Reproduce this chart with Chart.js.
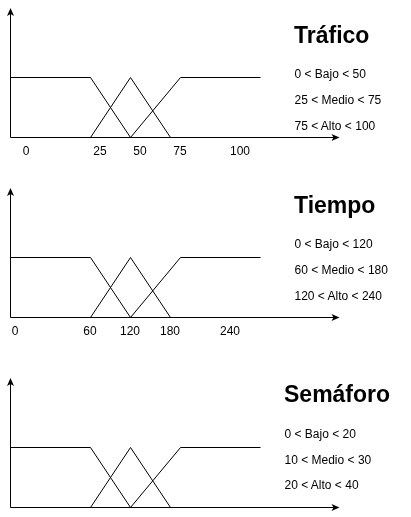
<!DOCTYPE html>
<html>
<head>
<meta charset="utf-8">
<script src="https://cdn.jsdelivr.net/npm/chart.js@4"></script>
<style>
  body { margin: 0; background: #fff; width: 411px; height: 517px; position: relative; overflow: hidden; }
  canvas { position: absolute; left: 0; }
  .titulo, .rango { position: absolute; font-family: "Liberation Sans", Arial, sans-serif; color: #000; white-space: nowrap; }
  .titulo { font-size: 23px; line-height: 23px; font-weight: bold; }
  .rango { font-size: 12px; line-height: 12px; }
</style>
</head>
<body>
<canvas id="chartTrafico" width="350" height="170" style="top:0px"></canvas>
<canvas id="chartTiempo" width="350" height="170" style="top:180px"></canvas>
<canvas id="chartSemaforo" width="350" height="147" style="top:370px"></canvas>

<div class="titulo" style="left:294px;top:24px">Tráfico</div>
<div class="rango" style="left:294.5px;top:68px">0 &lt; Bajo &lt; 50</div>
<div class="rango" style="left:294.5px;top:94px">25 &lt; Medio &lt; 75</div>
<div class="rango" style="left:294.5px;top:120px">75 &lt; Alto &lt; 100</div>

<div class="titulo" style="left:294px;top:194px">Tiempo</div>
<div class="rango" style="left:294.5px;top:238px">0 &lt; Bajo &lt; 120</div>
<div class="rango" style="left:294.5px;top:264px">60 &lt; Medio &lt; 180</div>
<div class="rango" style="left:294.5px;top:290px">120 &lt; Alto &lt; 240</div>

<div class="titulo" style="left:284px;top:383px">Semáforo</div>
<div class="rango" style="left:284.5px;top:428px">0 &lt; Bajo &lt; 20</div>
<div class="rango" style="left:284.5px;top:454px">10 &lt; Medio &lt; 30</div>
<div class="rango" style="left:284.5px;top:479px">20 &lt; Alto &lt; 40</div>

<script>
// Funciones de pertenencia (posición sobre el eje, grado 0..1) - igual en las tres gráficas
const bajoX = [0, 80, 120];
const bajoY = [1, 1, 0];
const medioX = [80, 120, 160];
const medioY = [0, 1, 0];
const altoX = [120, 170, 250];
const altoY = [0, 1, 1];

// Etiquetas del eje x y dónde caen sobre el eje
const traficoTicks = ['0', '25', '50', '75', '100'];
const traficoTickPos = [15.5, 89.5, 129.5, 169.5, 229.5];
const tiempoTicks = ['0', '60', '120', '180', '240'];
const tiempoTickPos = [4.5, 79.5, 119.5, 159.5, 219.5];
const semaforoTicks = [];
const semaforoTickPos = [];

function puntos(xs, ys) {
    return xs.map((x, i) => ({ x: x, y: ys[i] }));
}

// Ejes con flecha, estilo diagrama
const flechas = {
    id: 'flechas',
    afterDatasetsDraw(chart) {
        const ctx = chart.ctx;
        const a = chart.chartArea;
        const x0 = chart.scales.x.getPixelForValue(0);
        const y0 = chart.scales.y.getPixelForValue(0);
        const xTip = a.right - 0.5;
        const yTip = a.top;
        ctx.save();
        ctx.strokeStyle = '#000';
        ctx.fillStyle = '#000';
        ctx.lineWidth = 1;
        ctx.beginPath();
        ctx.moveTo(x0, y0);
        ctx.lineTo(x0, yTip + 5);
        ctx.moveTo(x0, y0);
        ctx.lineTo(xTip - 5, y0);
        ctx.stroke();
        // punta vertical
        ctx.beginPath();
        ctx.moveTo(x0, yTip);
        ctx.lineTo(x0 - 3.5, yTip + 8);
        ctx.lineTo(x0, yTip + 6);
        ctx.lineTo(x0 + 3.5, yTip + 8);
        ctx.closePath();
        ctx.fill();
        // punta horizontal
        ctx.beginPath();
        ctx.moveTo(xTip, y0);
        ctx.lineTo(xTip - 8, y0 - 3.5);
        ctx.lineTo(xTip - 6, y0);
        ctx.lineTo(xTip - 8, y0 + 3.5);
        ctx.closePath();
        ctx.fill();
        ctx.restore();
    }
};

function grafica(id, ticks, tickPos) {
    const canvas = document.getElementById(id);
    const alturaEje = canvas.height - 138;
    return new Chart(canvas.getContext('2d'), {
        type: 'line',
        data: {
            datasets: [
                { label: 'Bajo', data: puntos(bajoX, bajoY) },
                { label: 'Medio', data: puntos(medioX, medioY) },
                { label: 'Alto', data: puntos(altoX, altoY) }
            ]
        },
        options: {
            responsive: false,
            animation: false,
            devicePixelRatio: 1,
            layout: { padding: { left: 10, top: 8, right: 10, bottom: 0 } },
            elements: {
                line: { borderColor: '#000', borderWidth: 1, tension: 0, fill: false },
                point: { radius: 0, hoverRadius: 0 }
            },
            plugins: { legend: { display: false }, tooltip: { enabled: false } },
            scales: {
                x: {
                    type: 'linear',
                    min: -0.5,
                    max: 329.5,
                    grid: { display: false, drawTicks: false },
                    border: { display: false },
                    afterBuildTicks: (s) => { s.ticks = tickPos.map(v => ({ value: v })); },
                    afterFit: (s) => { s.height = alturaEje; },
                    ticks: {
                        display: ticks.length > 0,
                        autoSkip: false,
                        maxRotation: 0,
                        padding: 6,
                        color: '#000',
                        font: { family: '"Liberation Sans", Arial, sans-serif', size: 12 },
                        callback: (v, i) => ticks[i]
                    }
                },
                y: {
                    display: false,
                    min: -0.5 / 60,
                    max: 129.5 / 60
                }
            }
        },
        plugins: [flechas]
    });
}

grafica('chartTrafico', traficoTicks, traficoTickPos);
grafica('chartTiempo', tiempoTicks, tiempoTickPos);
grafica('chartSemaforo', semaforoTicks, semaforoTickPos);
</script>
</body>
</html>
